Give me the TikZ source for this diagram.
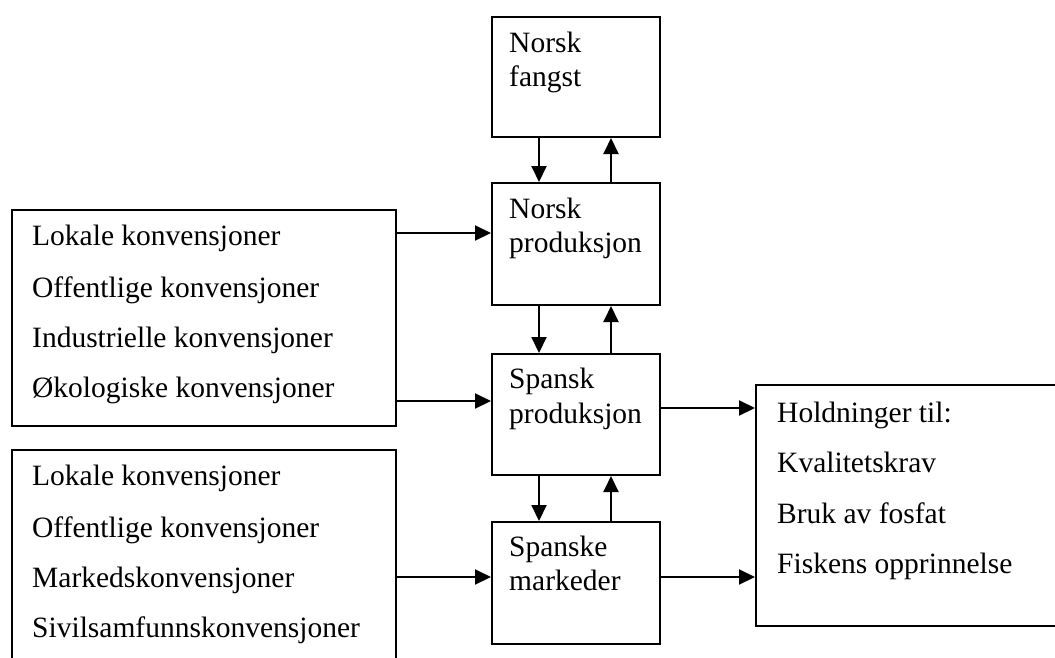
\documentclass[tikz,border=0pt]{standalone}
\usepackage{fontspec}
\setmainfont{Liberation Serif}
\usetikzlibrary{arrows.meta}
\begin{document}
\begin{tikzpicture}[x=1pt,y=-1pt,
  box/.style={draw, line width=2pt, rectangle, inner sep=0pt, anchor=north west},
  txt/.style={anchor=base west, inner sep=0pt, font=\fontsize{29.5}{34}\selectfont},
  arr/.style={line width=2pt, -{Triangle[length=16pt,width=15pt]}}]
\useasboundingbox (0,0) rectangle (1055,657);
\clip (0,0) rectangle (1055,657);
% middle column
\node[box, minimum width=168pt, minimum height=120pt] (nf) at (491,16) {};
\node[box, minimum width=168pt, minimum height=122pt] (np) at (491,182) {};
\node[box, minimum width=168pt, minimum height=121pt] (sp) at (491,353) {};
\node[box, minimum width=168pt, minimum height=122pt] (sm) at (491,521) {};
\node[txt] (nft1) at (509,52) {Norsk};
\node[txt] (nft2) at (509,86) {fangst};
\node[txt] (npt1) at (509,218) {Norsk};
\node[txt] (npt2) at (509,252) {produksjon};
\node[txt] (spt1) at (509,388) {Spansk};
\node[txt] (spt2) at (509,423) {produksjon};
\node[txt] (smt1) at (509,556) {Spanske};
\node[txt] (smt2) at (509,590) {markeder};
% left boxes
\node[box, minimum width=384pt, minimum height=216pt] (lk1) at (11,209) {};
\node[txt] (l1a) at (32,245) {Lokale konvensjoner};
\node[txt] (l1b) at (32,297) {Offentlige konvensjoner};
\node[txt] (l1c) at (32,347) {Industrielle konvensjoner};
\node[txt] (l1d) at (32,397) {Økologiske konvensjoner};
\node[box, minimum width=384pt, minimum height=260pt] (lk2) at (11,449) {};
\node[txt] (l2a) at (32,485) {Lokale konvensjoner};
\node[txt] (l2b) at (32,537) {Offentlige konvensjoner};
\node[txt] (l2c) at (32,587) {Markedskonvensjoner};
\node[txt] (l2d) at (32,637) {Sivilsamfunnskonvensjoner};
% right box
\node[box, minimum width=330pt, minimum height=241pt] (hb) at (755,384) {};
\node[txt] (h1) at (777,422) {Holdninger til:};
\node[txt] (h2) at (777,472) {Kvalitetskrav};
\node[txt] (h3) at (777,523) {Bruk av fosfat};
\node[txt] (h4) at (777,573) {Fiskens opprinnelse};
% vertical arrows
\draw[arr] (nf.south -| 539,0) -- (np.north -| 539,0);
\draw[arr] (np.north -| 611,0) -- (nf.south -| 611,0);
\draw[arr] (np.south -| 539,0) -- (sp.north -| 539,0);
\draw[arr] (sp.north -| 611,0) -- (np.south -| 611,0);
\draw[arr] (sp.south -| 539,0) -- (sm.north -| 539,0);
\draw[arr] (sm.north -| 611,0) -- (sp.south -| 611,0);
% horizontal arrows
\draw[arr] (lk1.east |- 0,233) -- (np.west |- 0,233);
\draw[arr] (lk1.east |- 0,401) -- (sp.west |- 0,401);
\draw[arr] (lk2.east |- 0,577) -- (sm.west |- 0,577);
\draw[arr] (sp.east |- 0,408) -- (hb.west |- 0,408);
\draw[arr] (sm.east |- 0,577) -- (hb.west |- 0,577);
\end{tikzpicture}
\end{document}
